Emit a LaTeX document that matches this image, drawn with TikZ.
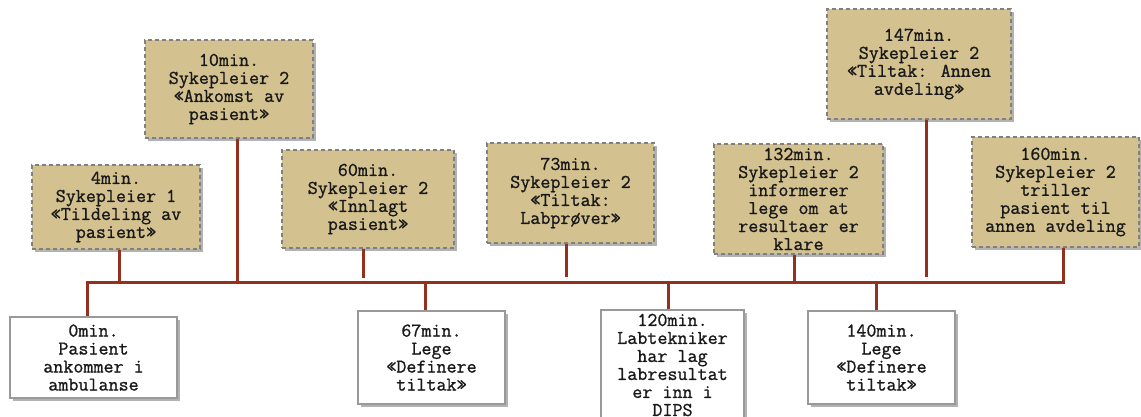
\documentclass[tikz,border=0pt]{standalone}
\usepackage{fontspec}
\newfontfamily\boxfont[FakeBold=1]{Latin Modern Mono}
\usetikzlibrary{shadows}
\definecolor{busline}{RGB}{150,48,30}
\definecolor{tanfill}{RGB}{211,194,143}
\definecolor{boxedge}{RGB}{128,128,128}
\definecolor{inktext}{RGB}{25,25,25}
\begin{document}
\begin{tikzpicture}[x=1pt,y=-1pt,
  every node/.style={font=\boxfont\fontsize{19.5}{18}\selectfont, text=inktext,
    align=center, inner sep=0pt},
  boxshadow/.style={drop shadow={shadow xshift=2.5pt, shadow yshift=-2.5pt,
    fill=black, opacity=0.3}},
  nurse/.style={boxshadow, fill=tanfill, draw=boxedge, dash pattern=on 4pt off 3pt,
    line width=1.1pt},
  event/.style={boxshadow, fill=white, draw=boxedge!80, line width=1.1pt},
  link/.style={draw=busline, line width=3pt}
]
\useasboundingbox (0,0) rectangle (1141,416);

% upper row: nurse activities
\node[nurse, minimum width=168pt, minimum height=84pt]  (b4)   at (116,207)
  {4min.\\Sykepleier 1\\«Tildeling av\\pasient»};
\node[nurse, minimum width=168pt, minimum height=98pt]  (b10)  at (229,89)
  {10min.\\Sykepleier 2\\«Ankomst av\\pasient»};
\node[nurse, minimum width=172pt, minimum height=98pt]  (b60)  at (368,199)
  {60min.\\Sykepleier 2\\«Innlagt\\pasient»};
\node[nurse, minimum width=167pt, minimum height=100pt] (b73)  at (570.5,193)
  {73min.\\Sykepleier 2\\«Tiltak:\\Labprøver»};
\node[nurse, minimum width=169pt, minimum height=110pt] (b132) at (798.5,199)
  {132min.\\Sykepleier 2\\informerer\\lege om at\\resultaer er\\klare};
\node[nurse, minimum width=184pt, minimum height=110pt] (b147) at (919,64)
  {147min.\\Sykepleier 2\\«Tiltak: Annen\\avdeling»};
\node[nurse, minimum width=167pt, minimum height=110pt] (b160) at (1055.5,192)
  {160min.\\Sykepleier 2\\triller\\pasient til\\annen avdeling};

% lower row: other events
\node[event, minimum width=167pt, minimum height=81pt]  (w0)   at (93.5,357.5)
  {0min.\\Pasient\\ankommer i\\ambulanse};
\node[event, minimum width=147pt, minimum height=93pt]  (w67)  at (431.5,357.5)
  {67min.\\Lege\\«Definere\\tiltak»};
\node[event, minimum width=143pt, minimum height=110pt] (w120) at (672.5,365)
  {120min.\\Labtekniker\\har lag\\labresultat\\er inn i\\DIPS};
\node[event, minimum width=147pt, minimum height=93pt]  (w140) at (881.5,357.5)
  {140min.\\Lege\\«Definere\\tiltak»};

% time line
\coordinate (busL) at (86,282);
\coordinate (busR) at (1065,282);
\draw[link] (busL) -- (busR);

% junctions on the time line
\coordinate (j0)   at (87,282);
\coordinate (j4)   at (119,282);
\coordinate (j10)  at (237,284);
\coordinate (j60)  at (363,278);
\coordinate (j67)  at (425,282);
\coordinate (j73)  at (566,277);
\coordinate (j120) at (668,282);
\coordinate (j132) at (794,282);
\coordinate (j140) at (876,282);
\coordinate (j147) at (926,277);
\coordinate (j160) at (1063,282);

\draw[link] (j4 |- b4.south)     -- (j4);
\draw[link] (j10 |- b10.south)   -- (j10);
\draw[link] (j60 |- b60.south)   -- (j60);
\draw[link] (j73 |- b73.south)   -- (j73);
\draw[link] (j132 |- b132.south) -- (j132);
\draw[link] (j147 |- b147.south) -- (j147);
\draw[link] (j160 |- b160.south) -- (j160);

\draw[link] (j0)   -- (j0 |- w0.north);
\draw[link] (j67)  -- (j67 |- w67.north);
\draw[link] (j120) -- (j120 |- w120.north);
\draw[link] (j140) -- (j140 |- w140.north);
\end{tikzpicture}
\end{document}
